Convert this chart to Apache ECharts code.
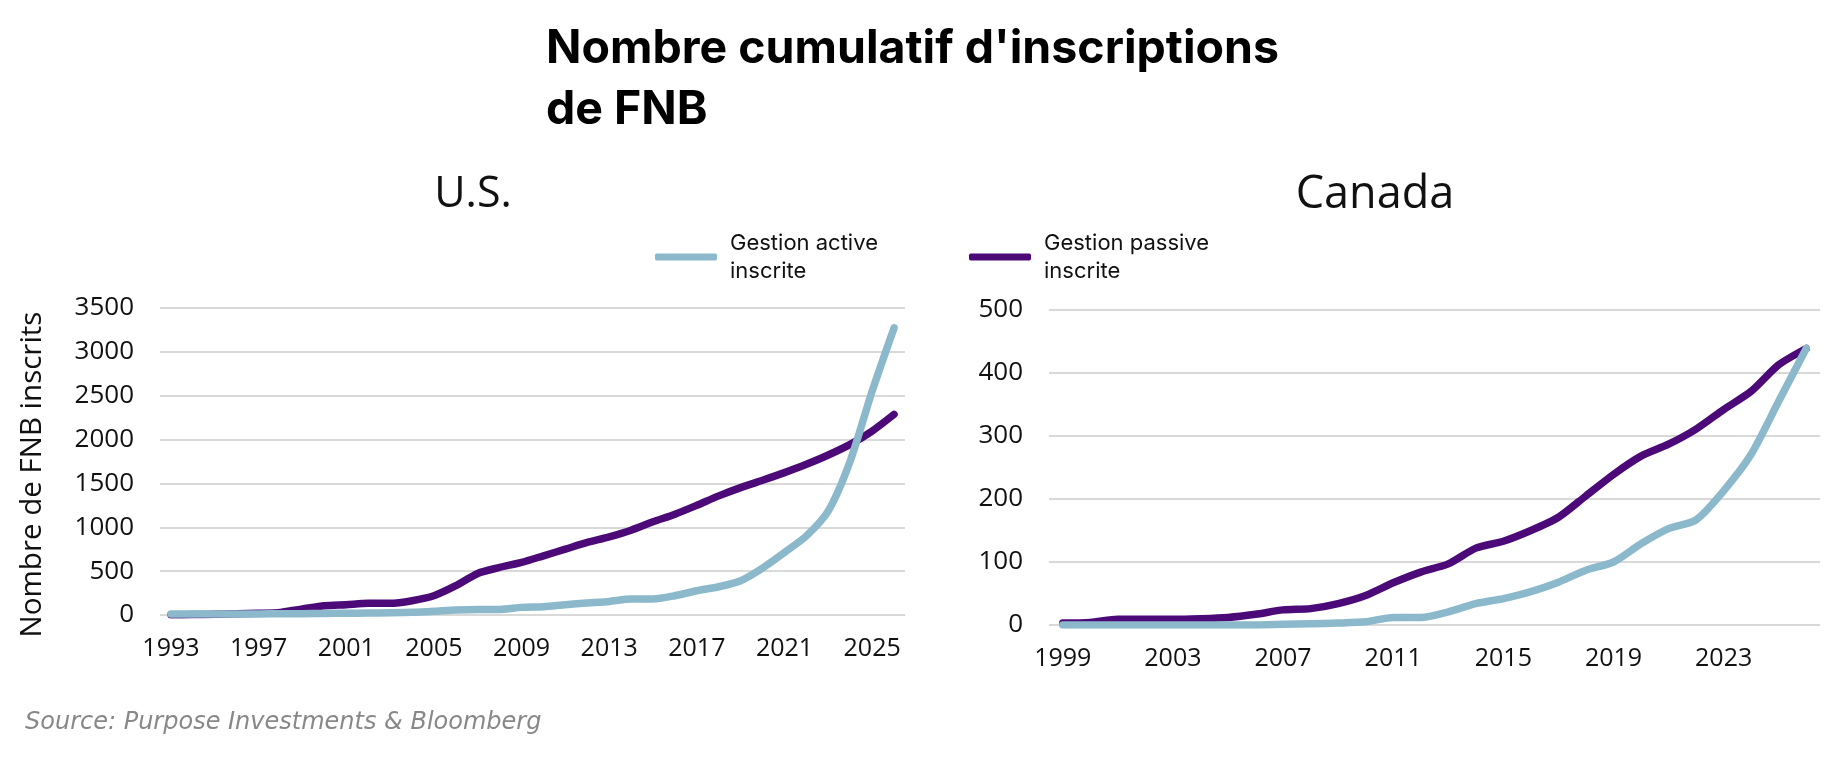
<!DOCTYPE html>
<html>
<head>
<meta charset="utf-8">
<script src="https://cdn.jsdelivr.net/npm/echarts@6/dist/echarts.min.js"></script>
<style>
  html, body { margin: 0; padding: 0; background: #fff; }
  #main { width: 1835px; height: 768px; }
</style>
</head>
<body>
<div id="main"></div>
<script>
let mychart = echarts.init(document.getElementById('main'));

const usYears = ['1993', '1994', '1995', '1996', '1997', '1998', '1999', '2000', '2001', '2002', '2003', '2004',
  '2005', '2006', '2007', '2008', '2009', '2010', '2011', '2012', '2013', '2014', '2015', '2016',
  '2017', '2018', '2019', '2020', '2021', '2022', '2023', '2024', '2025', '2026']
const usActive = [12, 12, 12, 12, 12, 14, 15, 18, 20, 22, 25, 30,
  42, 57, 64, 64, 87, 95, 118, 137, 155, 182, 182, 220,
  277, 322, 391, 535, 713, 902, 1187, 1756, 2552, 3273]
const usPassive = [2, 5, 8, 15, 20, 30, 68, 106, 118, 133, 133, 163,
  220, 334, 474, 542, 600, 675, 751, 827, 891, 967, 1062, 1149,
  1251, 1358, 1452, 1536, 1623, 1718, 1824, 1945, 2097, 2287]

const caYears = ['1999', '2000', '2001', '2002', '2003', '2004', '2005', '2006', '2007', '2008',
  '2009', '2010', '2011', '2012', '2013', '2014', '2015', '2016', '2017', '2018',
  '2019', '2020', '2021', '2022', '2023', '2024', '2025', '2026']
const caActive = [0, 0, 0, 0, 0, 0, 0, 0, 1, 2,
  3, 5, 12, 12, 21, 34, 42, 53, 68, 87,
  100, 129, 153, 167, 213, 271, 355, 439]
const caPassive = [3, 4, 9, 9, 9, 10, 12, 17, 24, 26,
  34, 47, 67, 84, 97, 122, 133, 150, 171, 205,
  239, 268, 287, 311, 342, 371, 413, 439]

const activeName = 'Gestion active inscrite'
const passiveName = 'Gestion passive inscrite'
const activeColor = '#8bb9cb'
const passiveColor = '#4c0a79'

const labelFont = 'Open Sans'

function xAxisFor(grid, years) {
  return {
    type: 'category',
    gridIndex: grid,
    data: years,
    boundaryGap: true,
    axisLine: { show: false },
    axisTick: { show: false },
    axisLabel: { interval: 3, margin: 21, fontSize: 25, color: '#111', fontFamily: labelFont }
  }
}

function yAxisFor(grid, max, interval) {
  return {
    type: 'value',
    gridIndex: grid,
    min: 0,
    max: max,
    interval: interval,
    axisLine: { show: false },
    axisTick: { show: false },
    axisLabel: { margin: 26, fontSize: 26, color: '#111', fontFamily: labelFont, formatter: v => String(v) },
    splitLine: { lineStyle: { color: '#d9d9d9', width: 2 } }
  }
}

function lineSeries(name, color, x, y, data, z) {
  return {
    name: name,
    type: 'line',
    xAxisIndex: x,
    yAxisIndex: y,
    data: data,
    smooth: 0.25,
    symbol: 'none',
    z: z,
    lineStyle: { color: color, width: 7.5, cap: 'round', join: 'round' },
    itemStyle: { color: color }
  }
}

const legendText = {
  fontSize: 22,
  lineHeight: 28,
  padding: [0, 0, 0, 8],
  color: '#111',
  fontFamily: 'Inter'
}

let option = {
  animation: false,
  backgroundColor: '#fff',
  title: [{
    text: "Nombre cumulatif d'inscriptions\nde FNB",
    left: 541,
    top: 14,
    textStyle: { fontSize: 46.5, fontWeight: 'bold', lineHeight: 61, color: '#000', fontFamily: 'Inter' }
  }, {
    text: 'U.S.',
    left: 468,
    top: 165,
    textAlign: 'center',
    textStyle: { fontSize: 43, fontWeight: 'normal', lineHeight: 50, color: '#111', fontFamily: labelFont }
  }, {
    text: 'Canada',
    left: 1370,
    top: 165,
    textAlign: 'center',
    textStyle: { fontSize: 45, fontWeight: 'normal', lineHeight: 50, color: '#111', fontFamily: labelFont }
  }],
  legend: [{
    data: [activeName],
    left: 650,
    top: 224,
    icon: 'roundRect',
    itemWidth: 62,
    itemHeight: 7,
    formatter: n => n.replace(' inscrite', '\ninscrite'),
    textStyle: legendText
  }, {
    data: [passiveName],
    left: 964,
    top: 224,
    icon: 'roundRect',
    itemWidth: 62,
    itemHeight: 7,
    formatter: n => n.replace(' inscrite', '\ninscrite'),
    textStyle: legendText
  }],
  grid: [
    { left: 160, top: 308, width: 745, height: 307 },
    { left: 1049, top: 310, width: 771, height: 315 }
  ],
  xAxis: [xAxisFor(0, usYears), xAxisFor(1, caYears)],
  yAxis: [
    Object.assign(yAxisFor(0, 3500, 500), {
      name: 'Nombre de FNB inscrits',
      nameLocation: 'middle',
      nameGap: 112,
      nameTextStyle: { fontSize: 29.5, color: '#111', fontFamily: labelFont, padding: [0, 26, 0, 0] }
    }),
    yAxisFor(1, 500, 100)
  ],
  series: [
    lineSeries(passiveName, passiveColor, 0, 0, usPassive, 2),
    lineSeries(activeName, activeColor, 0, 0, usActive, 3),
    lineSeries(passiveName, passiveColor, 1, 1, caPassive, 2),
    lineSeries(activeName, activeColor, 1, 1, caActive, 3)
  ],
  graphic: [{
    type: 'text',
    left: 25,
    top: 711,
    style: {
      text: 'Source: Purpose Investments & Bloomberg',
      font: 'italic 24px "DejaVu Sans"',
      fill: '#888'
    }
  }]
};
mychart.setOption(option);
</script>
</body>
</html>
